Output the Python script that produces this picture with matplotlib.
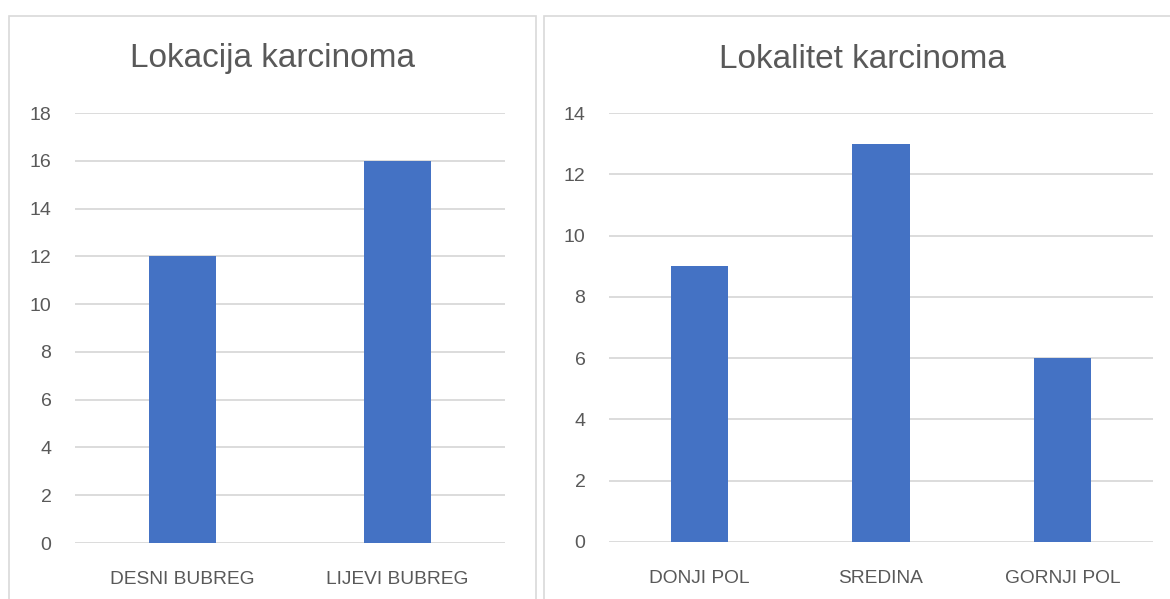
import matplotlib
matplotlib.use("Agg")
import matplotlib.pyplot as plt
from matplotlib.patches import Rectangle

plt.rcParams['font.family'] = ['Liberation Sans', 'DejaVu Sans']

left_title = "Lokacija karcinoma"
left_categories = ["DESNI BUBREG", "LIJEVI BUBREG"]
left_values = [12, 16]
left_ticks = [0, 2, 4, 6, 8, 10, 12, 14, 16, 18]

right_title = "Lokalitet karcinoma"
right_categories = ["DONJI POL", "SREDINA", "GORNJI POL"]
right_values = [9, 13, 6]
right_ticks = [0, 2, 4, 6, 8, 10, 12, 14]

W, H = 1170, 599
fig = plt.figure(figsize=(W / 100, H / 100), dpi=100)
fig.patch.set_facecolor("white")

BAR = "#4472C4"
GRID = "#D9D9D9"
TXT = "#595959"

def px_rect(x0, y0, x1, y1):
    return [x0 / W, 1 - y1 / H, (x1 - x0) / W, (y1 - y0) / H]

# panel borders
for (x0, y0, x1, y1) in [(9, 16, 536, 620), (544, 16, 1190, 620)]:
    fig.patches.append(Rectangle((x0 / W, 1 - y1 / H), (x1 - x0) / W, (y1 - y0) / H,
                                 transform=fig.transFigure, fill=False,
                                 edgecolor=GRID, linewidth=1.2, clip_on=False))

def make(pos, cats, vals, ticks, title, title_x):
    ax = fig.add_axes(pos)
    x = list(range(len(cats)))
    ax.bar(x, vals, width=0.315, color=BAR, zorder=3)
    ax.set_xlim(-0.5, len(cats) - 0.5)
    ax.set_ylim(ticks[0], ticks[-1])
    ax.set_yticks(ticks)
    ax.set_xticks(x)
    ax.set_xticklabels(cats, fontsize=13.8)
    for s in ax.spines.values():
        s.set_visible(False)
    ax.yaxis.grid(True, color=GRID, linewidth=1.3, zorder=0)
    ax.set_axisbelow(True)
    ax.tick_params(axis='both', length=0, colors=TXT)
    ax.tick_params(axis='y', pad=17, labelsize=14)
    ax.tick_params(axis='x', pad=20)
    ax.set_facecolor("none")
    fig.text(title_x / W, 1 - 59 / H, title, ha='center', va='center',
             fontsize=24, color=TXT)
    return ax

make(px_rect(75, 113, 505, 543), left_categories, left_values, left_ticks, left_title, 272)
make(px_rect(609, 113, 1153, 542), right_categories, right_values, right_ticks, right_title, 862)

fig.savefig("out.png", dpi=100, facecolor="white")
